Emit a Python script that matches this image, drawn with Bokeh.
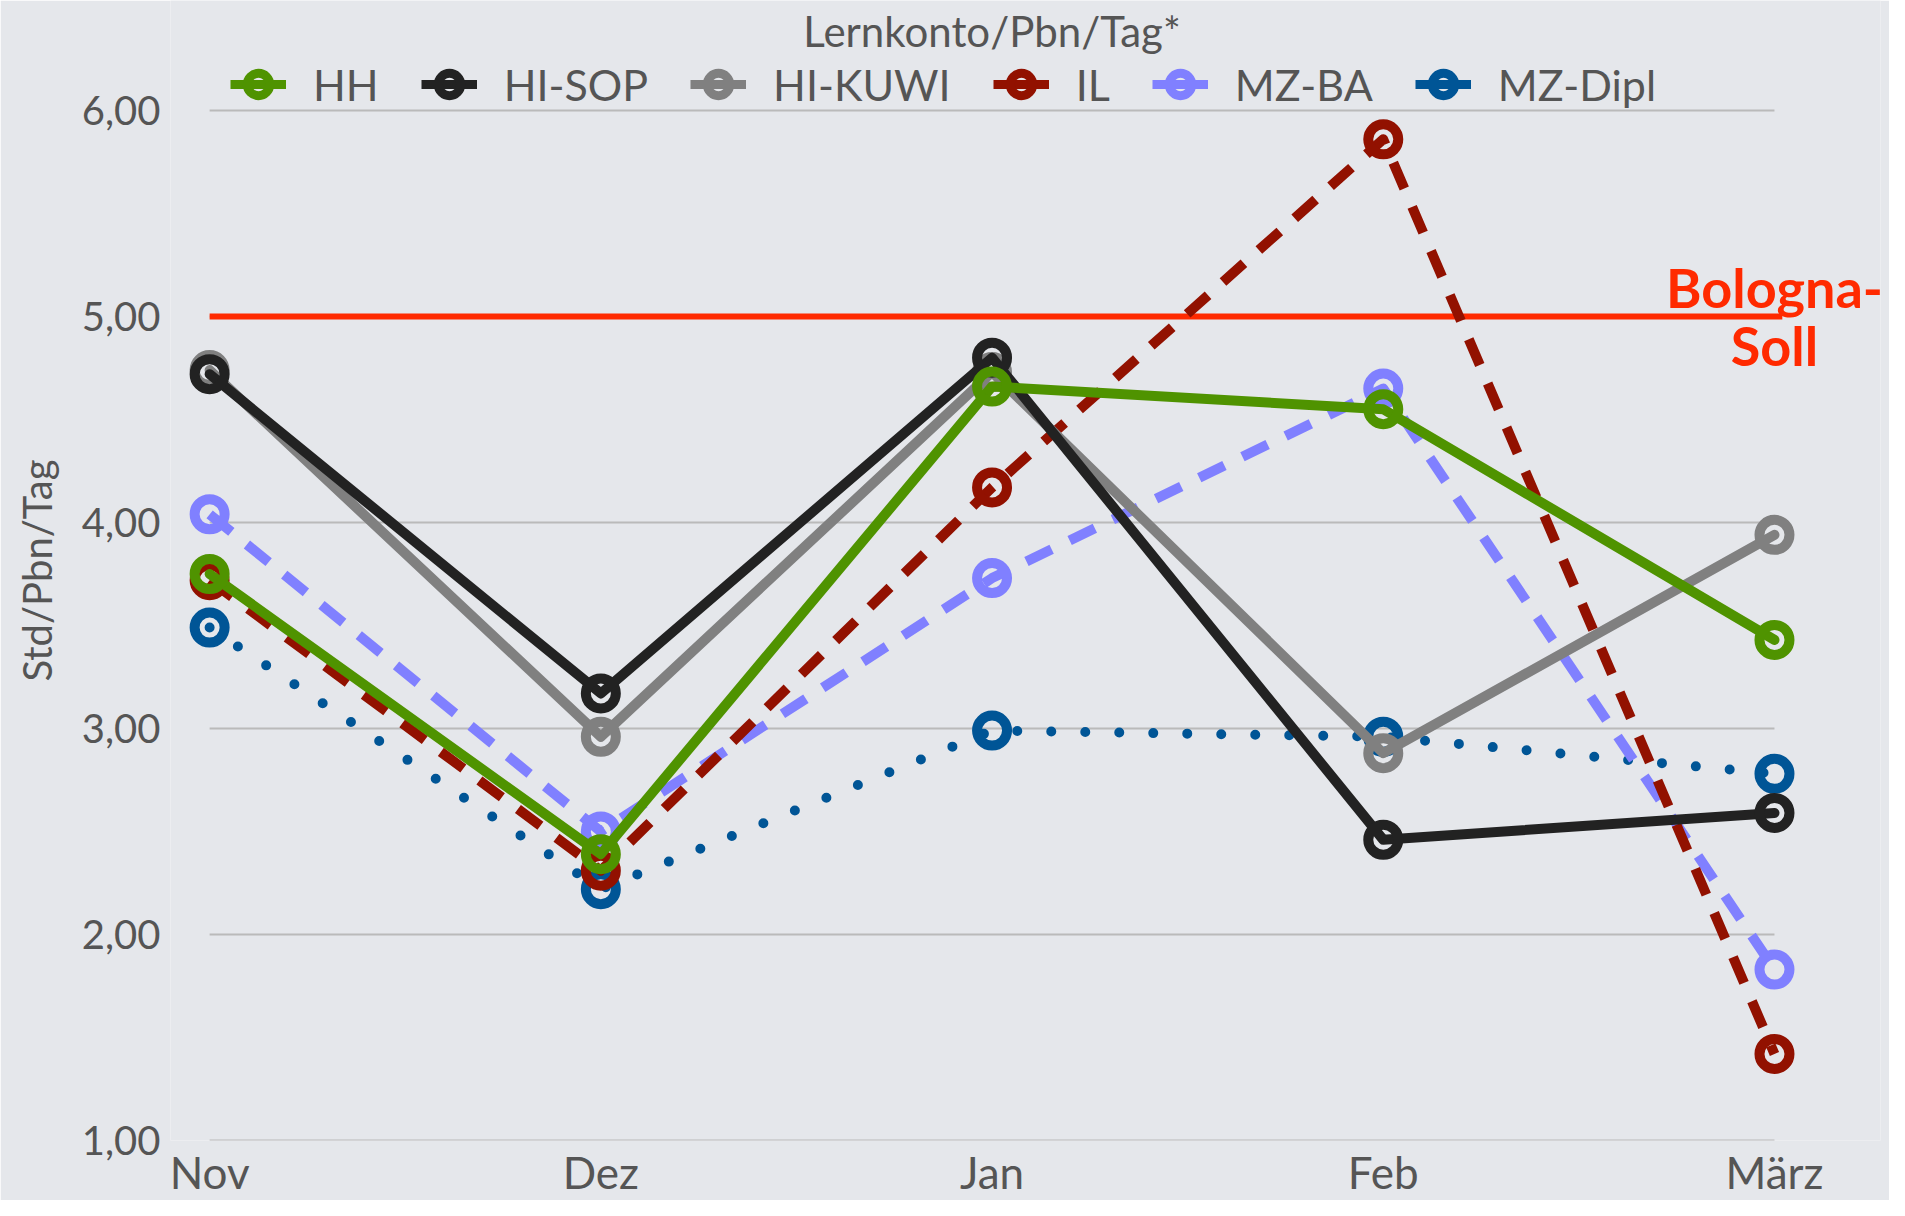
import math
from bokeh.plotting import figure
from bokeh.models import ColumnDataSource, FixedTicker, Legend, LegendItem, Range1d, Label
from bokeh.core.properties import value
from bokeh.embed import file_html
from bokeh.resources import INLINE

# ---------------- data ----------------
months = ["Nov", "Dez", "Jan", "Feb", "März"]
series_names = ["HH", "HI-SOP", "HI-KUWI", "IL", "MZ-BA", "MZ-Dipl"]
hh = [3.75, 2.39, 4.66, 4.55, 3.43]
hi_sop = [4.72, 3.17, 4.80, 2.46, 2.59]
hi_kuwi = [4.74, 2.96, 4.73, 2.88, 3.94]
il = [3.72, 2.31, 4.17, 5.86, 1.42]
mz_ba = [4.04, 2.50, 3.73, 4.65, 1.83]
mz_dipl = [3.49, 2.22, 2.99, 2.96, 2.78]
y_ticks = [1, 2, 3, 4, 5, 6]
y_tick_labels = ["1,00", "2,00", "3,00", "4,00", "5,00", "6,00"]
soll_value = 5.0
soll_label = "Bologna-\nSoll"
chart_title = "Lernkonto/Pbn/Tag*"
y_label = "Std/Pbn/Tag"

# ---------------- styles ----------------
colors = {"HH": "#4f9300", "HI-SOP": "#222222", "HI-KUWI": "#808080",
          "IL": "#921100", "MZ-BA": "#8080ff", "MZ-Dipl": "#005596"}
dashes = {"HH": "solid", "HI-SOP": "solid", "HI-KUWI": "solid",
          "IL": "28 20", "MZ-BA": "28 20", "MZ-Dipl": "0 34"}
caps = {"HH": "round", "HI-SOP": "round", "HI-KUWI": "round",
        "IL": "butt", "MZ-BA": "butt", "MZ-Dipl": "round"}
values_by_name = {"HH": hh, "HI-SOP": hi_sop, "HI-KUWI": hi_kuwi,
                  "IL": il, "MZ-BA": mz_ba, "MZ-Dipl": mz_dipl}
BG = "#e5e7eb"
TXT = "#555555"
FONT = "Lato"

x = list(range(len(months)))

p = figure(width=1889, height=1200, output_backend="svg", toolbar_location=None,
           x_range=Range1d(-0.1, 4.271), y_range=Range1d(1.0, 6.534),
           min_border_left=170, min_border_right=9, min_border_top=0,
           min_border_bottom=60)
p.background_fill_color = BG
p.border_fill_color = BG
p.outline_line_color = None
p.xgrid.grid_line_color = None
p.ygrid.grid_line_color = None

# axes
p.xaxis.ticker = FixedTicker(ticks=x)
p.xaxis.major_label_overrides = {i: m for i, m in enumerate(months)}
p.yaxis.ticker = FixedTicker(ticks=y_ticks)
p.yaxis.major_label_overrides = {t: l for t, l in zip(y_ticks, y_tick_labels)}
for ax in (p.xaxis, p.yaxis):
    ax.axis_line_color = None
    ax.major_tick_line_color = None
    ax.minor_tick_line_color = None
    ax.major_label_text_font = FONT
    ax.major_label_text_color = TXT
p.xaxis.major_label_text_font_size = "44px"
p.yaxis.major_label_text_font_size = "40px"
p.xaxis.major_label_standoff = -1
p.yaxis.major_label_standoff = 4
p.yaxis.axis_label = y_label
p.yaxis.axis_label_text_font = FONT
p.yaxis.axis_label_text_font_size = "40px"
p.yaxis.axis_label_text_font_style = "normal"
p.yaxis.axis_label_text_color = TXT
p.yaxis.axis_label_standoff = 18

# grid lines (only across the category span)
p.segment(x0=[x[0]] * len(y_ticks), x1=[x[-1]] * len(y_ticks), y0=y_ticks, y1=y_ticks,
          line_color="#bababa", line_width=2)

# Bologna-Soll line and label
p.segment(x0=[x[0]], x1=[x[-1] + 0.02], y0=[soll_value], y1=[soll_value],
          line_color="#ff2a00", line_width=6)
p.text(x=[x[-1]], y=[soll_value], text=[soll_label], text_align="center",
       text_baseline="middle", text_font=value(FONT), text_font_style="bold",
       text_font_size="54px", text_color="#ff2a00", text_line_height=0.88)

# series, drawn bottom -> top
for name in reversed(series_names):
    src = ColumnDataSource(dict(x=x, y=values_by_name[name]))
    p.line("x", "y", source=src, line_color=colors[name], line_width=10,
           line_dash=dashes[name], line_cap=caps[name], line_join="round")
    p.scatter("x", "y", source=src, size=30, marker="circle", fill_alpha=0,
              line_color=colors[name], line_width=10)

# title (centred over the category span)
p.add_layout(Label(x=(x[0] + x[-1]) / 2, y=y_ticks[-1], y_offset=80,
                   text=chart_title, text_align="center", text_baseline="alphabetic",
                   text_font=FONT, text_font_size="42px", text_color=TXT))

# legend-only renderers
items = []
for name in series_names:
    src = ColumnDataSource(dict(x=[math.nan], y=[math.nan]))
    lr = p.line("x", "y", source=src, line_color=colors[name], line_width=9)
    sr = p.scatter("x", "y", source=src, marker="circle", fill_alpha=0,
                   line_color=colors[name], line_width=9)
    items.append(LegendItem(label=name, renderers=[lr, sr]))

legend = Legend(items=items, orientation="horizontal", location=(60, 1028),
                glyph_width=56, glyph_height=56, label_height=56,
                label_standoff=27, spacing=42, padding=0, margin=0,
                border_line_color=None, background_fill_alpha=0,
                label_text_font=FONT, label_text_font_size="43px",
                label_text_color=TXT, label_text_baseline="middle")
p.add_layout(legend)

open("out.html", "w").write(file_html(p, INLINE))
